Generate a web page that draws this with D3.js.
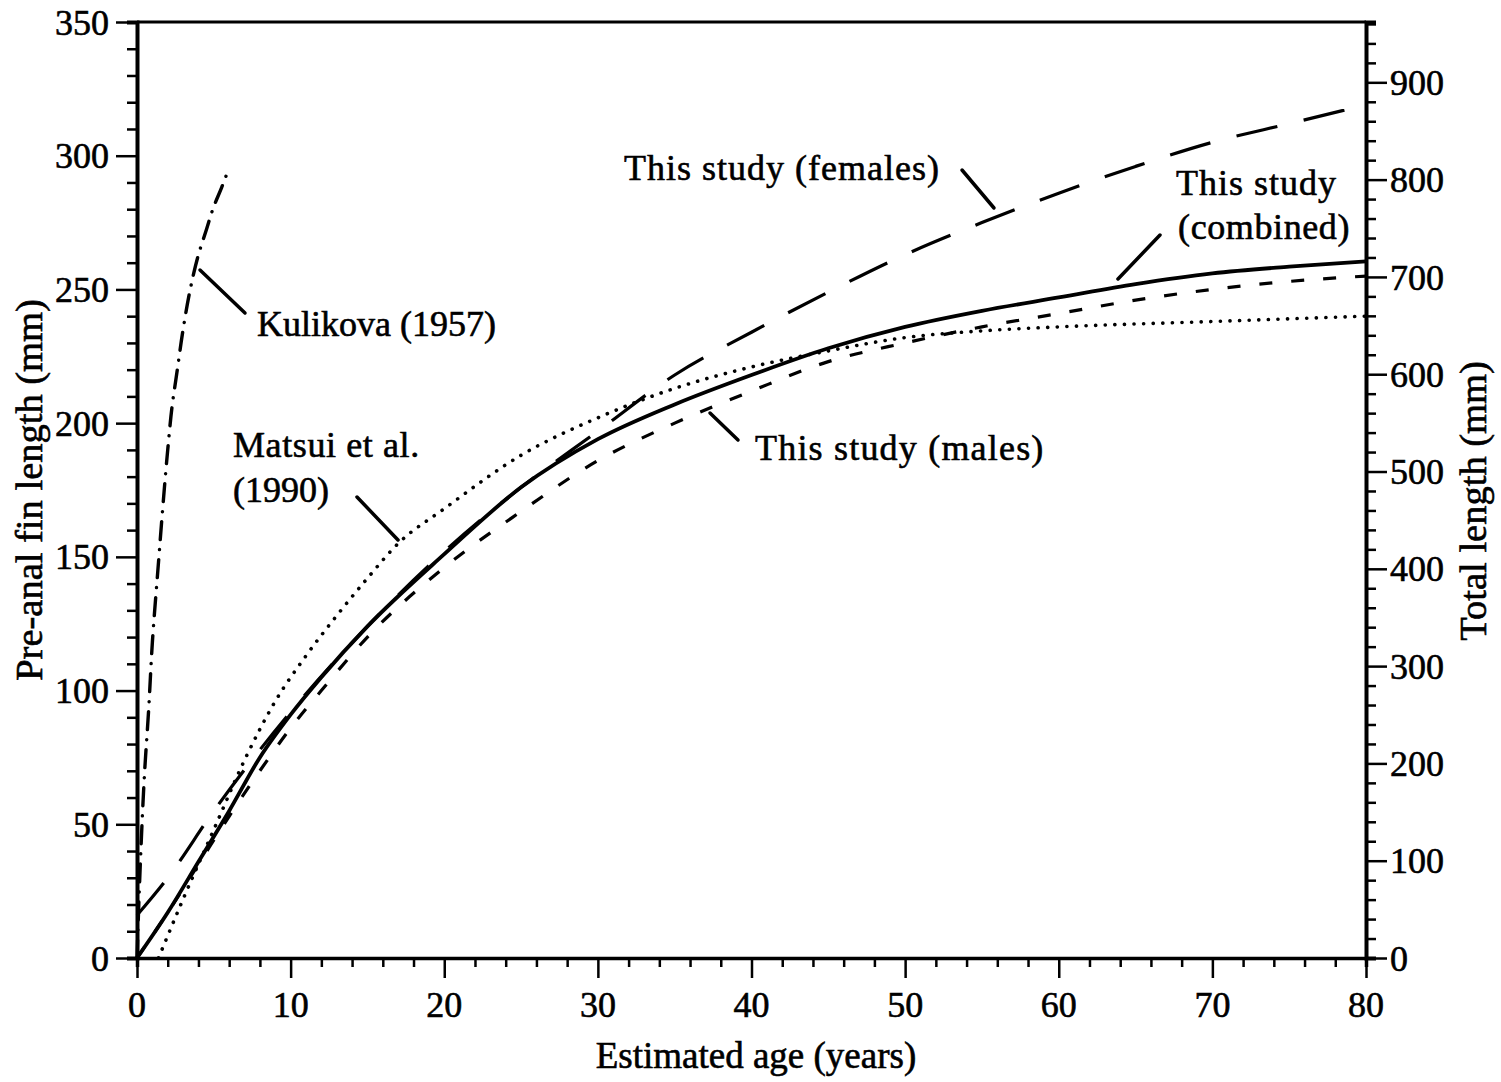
<!DOCTYPE html>
<html>
<head>
<meta charset="utf-8">
<script src="https://cdn.jsdelivr.net/npm/d3@7"></script>
<style>
  html, body { margin: 0; padding: 0; background: #fff; }
  svg { display: block; }
  text { font-family: "Liberation Serif", "Times New Roman", serif; fill: #000; stroke: #000; stroke-width: 0.6px; }
</style>
</head>
<body>
<script>
// ---- Data (pre-anal fin length, mm, vs estimated age, years) ----
const combinedAge = [0, 2, 4, 6, 8, 10, 12, 15, 20, 25, 30, 35, 40, 45, 50, 55, 60, 65, 70, 75, 80];
const combinedLen = [0, 17, 36, 55, 75, 91, 105, 124, 151, 176, 194, 207, 218, 228, 236, 242, 247, 252, 256, 258.5, 260.5];

const malesAge = [0, 2, 4, 6, 8, 10, 12, 15, 20, 25, 30, 35, 40, 45, 50, 55, 60, 65, 70, 75, 80];
const malesLen = [0, 17, 35, 53, 70, 86, 100, 120, 146, 167, 186, 200, 212, 223, 230, 236, 241, 246, 250, 253, 255];

const femalesAge = [0, 2, 5, 10, 15, 20, 25, 30, 35, 40, 45, 50, 55, 60, 65, 70, 75, 80];
const femalesLen = [16, 30, 55, 92, 124, 152, 176, 197, 218, 234, 249, 263, 275, 286, 296, 305, 312, 319];

const matsuiAge = [1.4, 3, 5, 7, 9, 11, 13, 15, 17, 20, 25, 30, 35, 40, 45, 50, 55, 60, 70, 80];
const matsuiLen = [0, 22, 48, 74, 96, 113, 128, 142, 155, 168, 188, 202, 213, 221, 227, 232, 234.5, 236, 238, 240];

const kulikovaAge = [0, 0.25, 0.5, 0.75, 1, 1.4, 1.7, 2, 2.3, 2.6, 3, 3.5, 4, 4.5, 5, 5.5, 5.9];
const kulikovaLen = [0, 40, 70, 92, 118, 148, 170, 190, 207, 219, 235, 251, 263, 272, 281, 288, 294];

// ---- Axis ticks ----
const xTicks = [0, 10, 20, 30, 40, 50, 60, 70, 80];
const yLeftTicks = [0, 50, 100, 150, 200, 250, 300, 350];
const yRightTicks = [0, 100, 200, 300, 400, 500, 600, 700, 800, 900];

const W = 1501, H = 1082;
const M = { left: 137, right: 1366, top: 22, bottom: 958 };

const svg = d3.select("body").append("svg").attr("width", W).attr("height", H);

const x = d3.scaleLinear().domain([0, 80]).range([M.left, M.right]);
const yL = d3.scaleLinear().domain([0, 350]).range([M.bottom, M.top]);
const yR = d3.scaleLinear().domain([0, 962]).range([M.bottom, M.top]);

const FS = 36;

// frame top line
svg.append("line").attr("x1", M.left).attr("x2", M.right).attr("y1", M.top).attr("y2", M.top)
  .attr("stroke", "#000").attr("stroke-width", 3);

// X axis
const gx = svg.append("g").attr("transform", `translate(0,${M.bottom})`);
gx.call(d3.axisBottom(x).tickValues(d3.range(0, 81, 2)).tickSize(9).tickFormat(""));
gx.call(g => g.selectAll(".tick").filter(d => d % 10 === 0).select("line").attr("y2", 20));
gx.selectAll(".tick text").remove();
gx.select(".domain").attr("stroke-width", 3.5);
gx.selectAll("line").attr("stroke-width", 2.5);
gx.append("g").selectAll("text").data(xTicks).join("text")
  .attr("x", d => x(d)).attr("y", 59).attr("text-anchor", "middle")
  .attr("font-size", FS).text(d => d);

// Left axis
const gl = svg.append("g").attr("transform", `translate(${M.left},0)`);
gl.call(d3.axisLeft(yL).tickValues(d3.range(0, 351, 10)).tickSize(10).tickFormat(""));
gl.call(g => g.selectAll(".tick").filter(d => d % 50 === 0).select("line").attr("x2", -21));
gl.select(".domain").attr("stroke-width", 4);
gl.selectAll("line").attr("stroke-width", 2.5);
gl.append("g").selectAll("text").data(yLeftTicks).join("text")
  .attr("x", -28).attr("y", d => yL(d)).attr("dy", "0.35em").attr("text-anchor", "end")
  .attr("font-size", FS).text(d => d);

// Right axis
const gr = svg.append("g").attr("transform", `translate(${M.right},0)`);
gr.call(d3.axisRight(yR).tickValues(d3.range(0, 961, 20)).tickSize(10).tickFormat(""));
gr.call(g => g.selectAll(".tick").filter(d => d % 100 === 0).select("line").attr("x2", 21));
gr.select(".domain").attr("stroke-width", 4);
gr.selectAll("line").attr("stroke-width", 2.5);
gr.append("g").selectAll("text").data(yRightTicks).join("text")
  .attr("x", 24).attr("y", d => yR(d)).attr("dy", "0.35em").attr("text-anchor", "start")
  .attr("font-size", FS).text(d => d);

// Axis titles
svg.append("text").attr("x", 756).attr("y", 1068)
  .attr("text-anchor", "middle").attr("font-size", 37).text("Estimated age (years)");
svg.append("text").attr("transform", `translate(42,490) rotate(-90)`)
  .attr("text-anchor", "middle").attr("font-size", 38.5).text("Pre-anal fin length (mm)");
svg.append("text").attr("transform", `translate(1486,501) rotate(-90)`)
  .attr("text-anchor", "middle").attr("font-size", 38.5).text("Total length (mm)");

// Curves
const line = d3.line().x(d => x(d[0])).y(d => yL(d[1])).curve(d3.curveMonotoneX);
const zip = (a, b) => a.map((v, i) => [v, b[i]]);

const series = [
  { pts: zip(matsuiAge, matsuiLen), dash: "0.1,9.5", w: 3.6, cap: "round" },
  { pts: zip(malesAge, malesLen), dash: "13,19", w: 3.2, cap: "butt" },
  { pts: zip(femalesAge, femalesLen), dash: "42,27", w: 3.2, cap: "butt" },
  { pts: zip(combinedAge, combinedLen), dash: null, w: 3.8, cap: "butt" },
];
const plot = svg.append("g");
series.forEach(s => {
  plot.append("path").datum(s.pts).attr("d", line)
    .attr("fill", "none").attr("stroke", "#000").attr("stroke-width", s.w)
    .attr("stroke-linecap", s.cap)
    .attr("stroke-dasharray", s.dash);
});
const lineK = d3.line().x(d => x(d[0])).y(d => yL(d[1])).curve(d3.curveMonotoneY);
plot.append("path").datum(zip(kulikovaAge, kulikovaLen)).attr("d", lineK)
  .attr("fill", "none").attr("stroke", "#000").attr("stroke-width", 3.4)
  .attr("stroke-linecap", "round").attr("stroke-dasharray", "18,10,0.1,10");

// Annotations: leader lines + labels
const leaders = [
  [200, 270, 245, 313],
  [357, 497, 398, 540],
  [710, 413, 738, 440],
  [962, 170, 994, 208],
  [1160, 235, 1118, 279],
];
svg.append("g").selectAll("line").data(leaders).join("line")
  .attr("x1", d => d[0]).attr("y1", d => d[1]).attr("x2", d => d[2]).attr("y2", d => d[3])
  .attr("stroke", "#000").attr("stroke-width", 3.5).attr("stroke-linecap", "round");

const labels = [
  { t: "Kulikova (1957)", x: 257, y: 336, a: "start", ls: 0 },
  { t: "Matsui et al.", x: 233, y: 457, a: "start", ls: 0.6 },
  { t: "(1990)", x: 233, y: 502, a: "start", ls: 0 },
  { t: "This study (males)", x: 755, y: 460, a: "start", ls: 1.2 },
  { t: "This study (females)", x: 624, y: 180, a: "start", ls: 1.0 },
  { t: "This study", x: 1337, y: 195, a: "end", ls: 1.0 },
  { t: "(combined)", x: 1350, y: 239, a: "end", ls: 0.6 },
];
svg.append("g").selectAll("text").data(labels).join("text")
  .attr("x", d => d.x).attr("y", d => d.y).attr("text-anchor", d => d.a)
  .attr("letter-spacing", d => d.ls)
  .attr("font-size", 36).text(d => d.t);
</script>
</body>
</html>
